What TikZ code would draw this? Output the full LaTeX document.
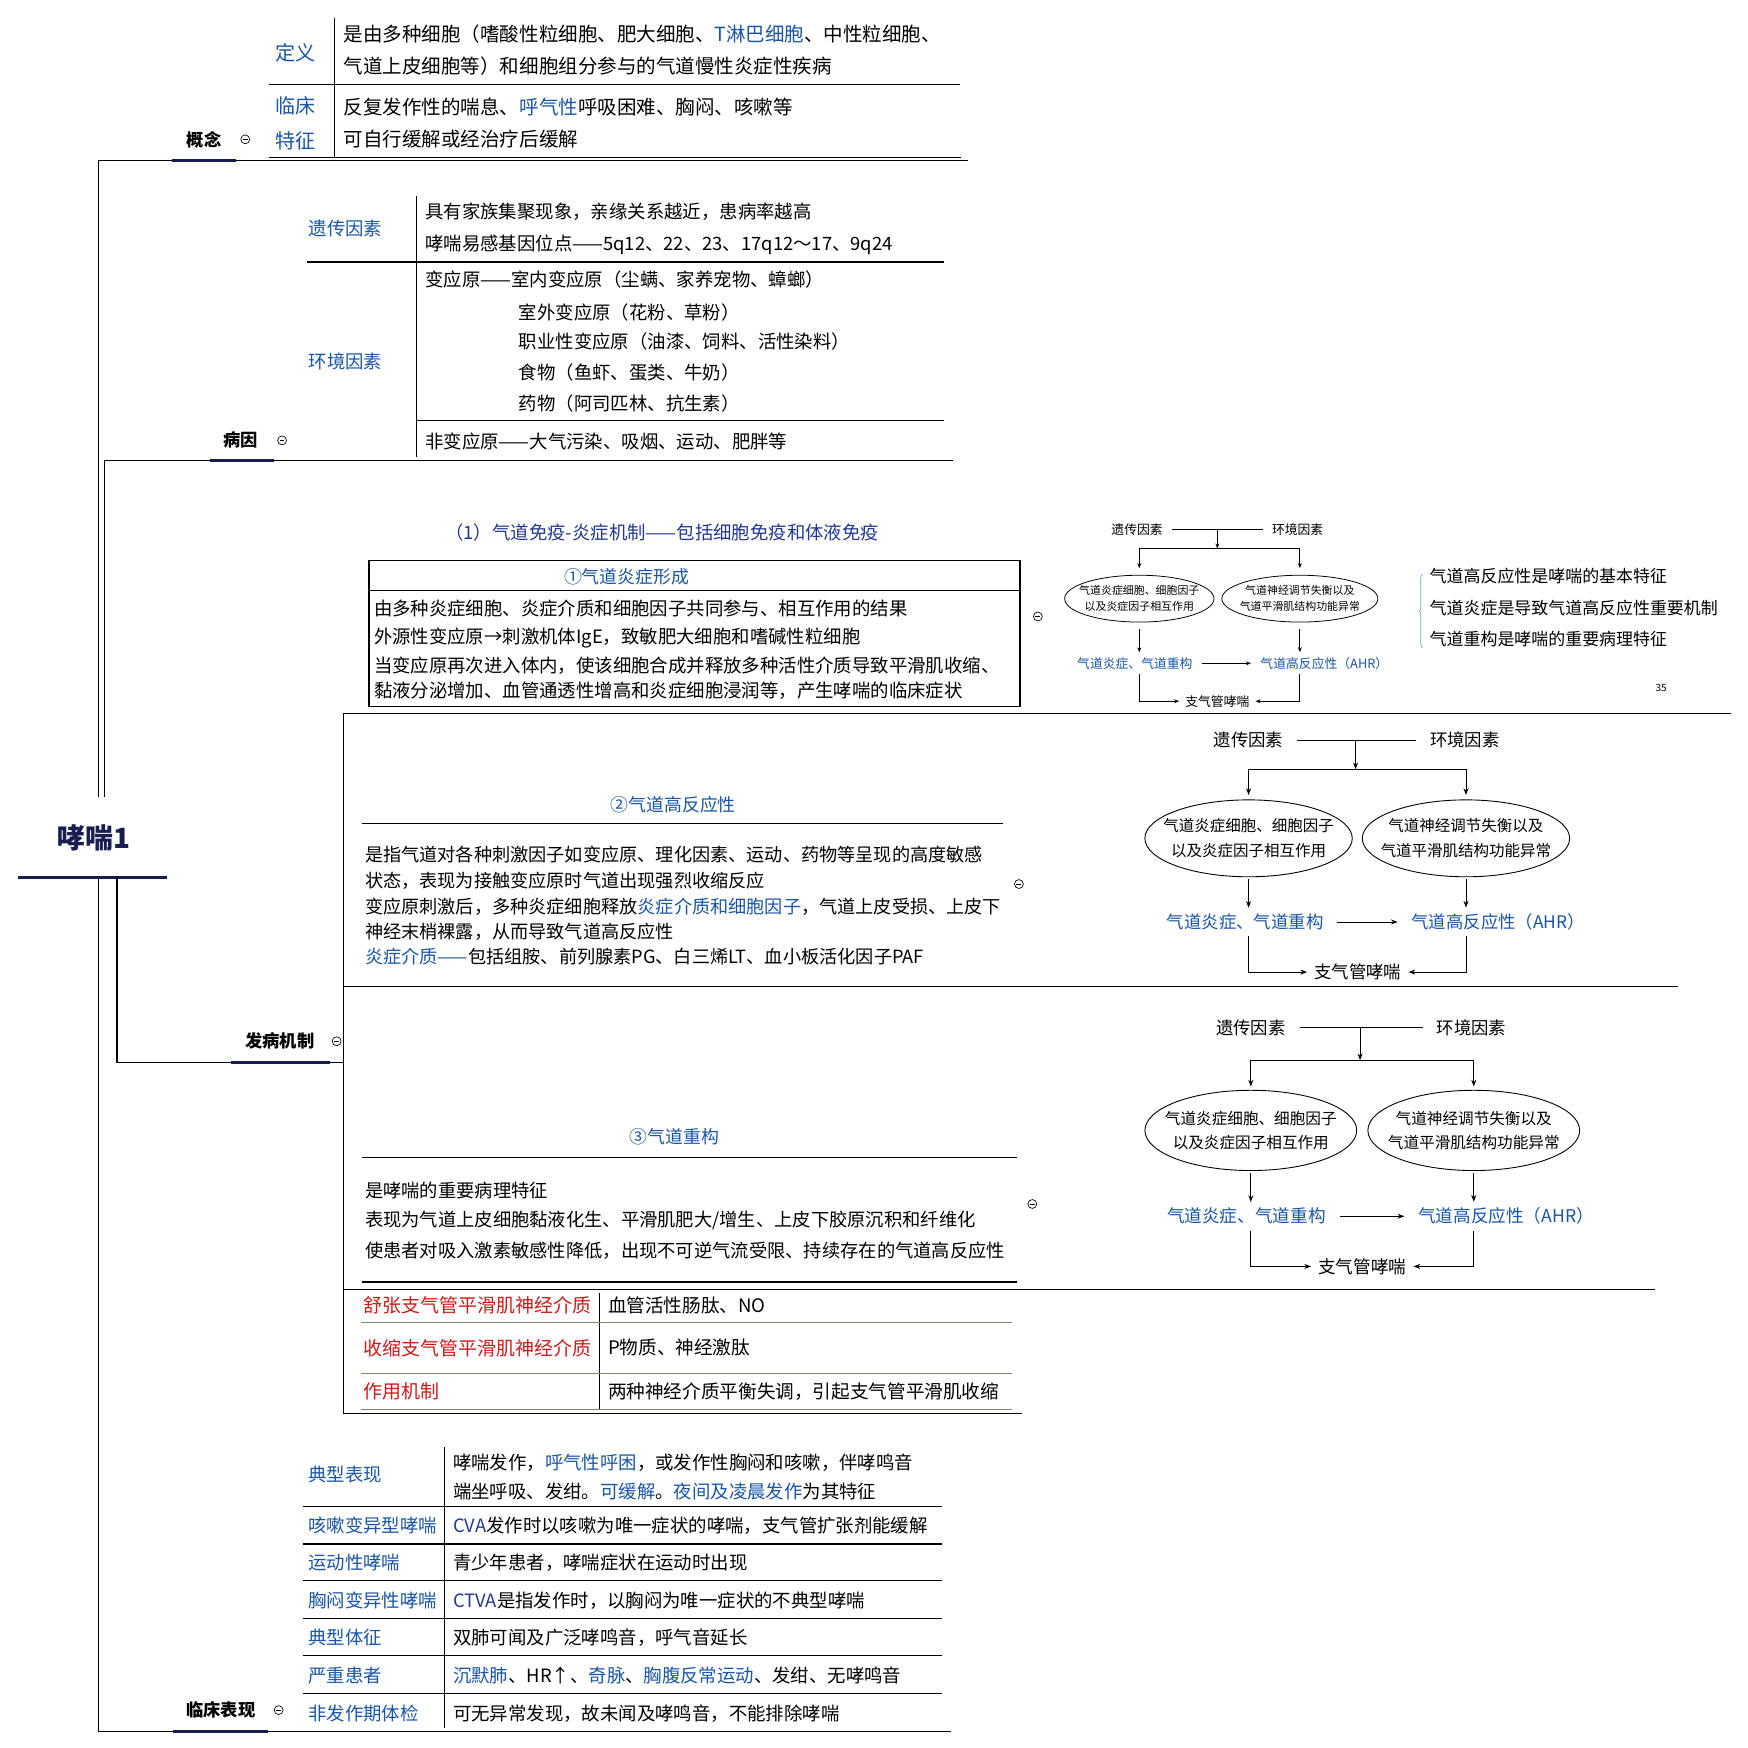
\documentclass[tikz,border=0pt]{standalone}
\usepackage{fontspec}
\setmainfont{Noto Sans CJK SC}
\usetikzlibrary{shapes.geometric,arrows.meta,decorations.pathreplacing}
\definecolor{lblue}{RGB}{25,85,165}
\definecolor{tblue}{RGB}{35,55,145}
\definecolor{lred}{RGB}{205,25,25}
\definecolor{navy}{RGB}{25,30,80}
\definecolor{rowgray}{RGB}{130,135,110}
\newcommand\blu[1]{\textcolor{lblue}{#1}}
\newcommand\fsz[2][1.2]{\fontsize{#2}{#1\dimexpr#2pt\relax}\selectfont}
\tikzset{
  txt/.style={anchor=west, inner sep=0pt, font=\fsz{16.5}},
  lab/.style={txt, text=lblue},
  redlab/.style={txt, text=lred},
  headline/.style={inner sep=0pt, font=\fsz{16}, text=lblue},
  branch/.style={inner sep=0pt, font=\bfseries\fsz{15.5}},
  uline/.style={line width=2.8pt, draw=navy},
  fold/.style={circle, draw, line width=0.6pt, minimum size=8pt, inner sep=0pt,
    path picture={\draw[line width=0.6pt] ([xshift=1.8pt]path picture bounding box.west)
      -- ([xshift=-1.8pt]path picture bounding box.east);}},
  fcbig/.style={inner xsep=12pt, inner ysep=5pt, font=\fsz{15.6}},
  fcblue/.style={fcbig, text=lblue},
  fcend/.style={fcbig, inner xsep=6pt},
  ovbig/.style={ellipse, draw, line width=0.8pt, inner xsep=-11pt, inner ysep=0pt, align=center,
    minimum width=186pt, minimum height=69pt, font=\fontsize{13.9}{22}\selectfont},
  fcsmall/.style={inner xsep=8pt, inner ysep=4pt, font=\fsz{11.5}},
  fcsblue/.style={fcsmall, text=lblue},
  fcsend/.style={fcsmall, inner xsep=5pt},
  ovsmall/.style={ellipse, draw, line width=0.7pt, inner xsep=-10pt, inner ysep=0pt, align=center,
    minimum width=134pt, minimum height=42pt, font=\fontsize{9.8}{14}\selectfont},
  arr/.style={-{Stealth[length=6pt,width=4.5pt]}, line width=0.8pt},
  arrs/.style={-{Stealth[length=4.5pt,width=3.5pt]}, line width=0.7pt},
}
\begin{document}
\begin{tikzpicture}[x=1pt, y=-1pt, line width=1pt]
\useasboundingbox (0,0) rectangle (1568,1568);

% root and branches
\node[inner sep=0pt, font=\bfseries\fsz{25}, text=navy] (root) at (84,752) {哮喘1};
\draw[uline] (16,787) -- (150,787);
\draw (88,715) -- (88,144) -- (868,144);
\draw (94,715) -- (94,413) -- (855,413);
\draw (105,787) -- (105,953) -- (308,953);
\draw (88,787) -- (88,1553) -- (853,1553);
\draw[uline] (154,144) -- (212,144);
\draw[uline] (188,413) -- (246,413);
\draw[uline] (207,953) -- (296,953);
\draw[uline] (155,1553) -- (240,1553);
\node[branch] (bGn) at (183,125) {概念};
\node[fold] (fGn) at (220,125) {};
\node[branch] (bBy) at (216,395) {病因};
\node[fold] (fBy) at (253,395) {};
\node[branch] (bFb) at (251,934) {发病机制};
\node[fold] (fFb) at (302,934) {};
\node[branch] (bLc) at (198,1534) {临床表现};
\node[fold] (fLc) at (250,1534) {};

% 概念
\draw (300,16) -- (300,141);
\draw (241,76) -- (861,76);
\draw (241,141) -- (862,141);
\node[lab, anchor=center, font=\fsz{18}] (lDy) at (265,47) {定义};
\node[lab, anchor=center, font=\fsz{18}] (lLc1) at (265,95) {临床};
\node[lab, anchor=center, font=\fsz{18}] (lLc2) at (265,126) {特征};
\node[txt, font=\fsz{17.5}] (dy1) at (308,31) {是由多种细胞（嗜酸性粒细胞、肥大细胞、\blu{T淋巴细胞}、中性粒细胞、};
\node[txt, font=\fsz{17.5}] (dy2) at (308,59) {气道上皮细胞等）和细胞组分参与的气道慢性炎症性疾病};
\node[txt, font=\fsz{17.5}] (lc1) at (308,96) {反复发作性的喘息、\blu{呼气性}呼吸困难、胸闷、咳嗽等};
\node[txt, font=\fsz{17.5}] (lc2) at (308,125) {可自行缓解或经治疗后缓解};

% 病因
\draw (374,176) -- (374,410);
\draw (275,235) -- (847,235);
\draw (374,377) -- (847,377);
\node[lab, anchor=center] (lYc) at (310,205) {遗传因素};
\node[lab, anchor=center] (lHj) at (310,324) {环境因素};
\node[txt] (yc1) at (381,190) {具有家族集聚现象，亲缘关系越近，患病率越高};
\node[txt] (yc2) at (381,220) {哮喘易感基因位点——5q12、22、23、17q12～17、9q24};
\node[txt] (hj1) at (381,251) {变应原——室内变应原（尘螨、家养宠物、蟑螂）};
\node[txt] (hj2) at (465,280) {室外变应原（花粉、草粉）};
\node[txt] (hj3) at (465,306) {职业性变应原（油漆、饲料、活性染料）};
\node[txt] (hj4) at (465,334) {食物（鱼虾、蛋类、牛奶）};
\node[txt] (hj5) at (465,362) {药物（阿司匹林、抗生素）};
\node[txt] (hj6) at (381,396) {非变应原——大气污染、吸烟、运动、肥胖等};

% 发病机制 frame
\draw (308,640) -- (1553,640);
\draw (308,640) -- (308,1268);
\draw (308,885) -- (1505,885);
\draw (308,1157) -- (1485,1157);
\draw (308,1268) -- (917,1268);

% (1) 气道炎症形成
\node[inner sep=0pt, font=\fsz{16.5}, text=tblue] (tMy) at (594,478) {（1）气道免疫-炎症机制——包括细胞免疫和体液免疫};
\draw (331,503) rectangle (915,634);
\draw (331,530) -- (915,530);
\node[headline] (hYz) at (562,517) {①气道炎症形成};
\node[txt] (yz1) at (335,546) {由多种炎症细胞、炎症介质和细胞因子共同参与、相互作用的结果};
\node[txt] (yz2) at (335,572) {外源性变应原→刺激机体IgE，致敏肥大细胞和嗜碱性粒细胞};
\node[txt] (yz3) at (335,597) {当变应原再次进入体内，使该细胞合成并释放多种活性介质导致平滑肌收缩、};
\node[txt] (yz4) at (335,620) {黏液分泌增加、血管通透性增高和炎症细胞浸润等，产生哮喘的临床症状};
\node[fold] (fYz) at (931,553) {};

\node[fcsmall] (gA) at (1020,475) {遗传因素};
\node[fcsmall] (eA) at (1164,475) {环境因素};
\coordinate (mA) at (1092,475);
\coordinate (sA) at (1092,492);
\draw[line width=0.7pt] (gA) -- (eA);
\draw[arrs] (mA) -- (sA);
\node[ovsmall] (lA) at (1022,537) {气道炎症细胞、细胞因子\\以及炎症因子相互作用};
\node[ovsmall, minimum width=140pt] (rA) at (1166,537) {气道神经调节失衡以及\\气道平滑肌结构功能异常};
\draw[arrs, shorten >=6pt] (sA) -| (lA);
\draw[arrs, shorten >=6pt] (sA) -| (rA);
\node[fcsblue] (iA) at (1018,595) {气道炎症、气道重构};
\node[fcsblue] (hA) at (1188,595) {气道高反应性（AHR）};
\node[fcsend] (zA) at (1092,629) {支气管哮喘};
\draw[arrs, shorten <=6pt] (lA) -- (lA |- iA.north);
\draw[arrs, shorten <=6pt] (rA) -- (rA |- hA.north);
\draw[arrs] (iA) -- (hA);
\draw[arrs] (lA |- iA.south) |- (zA);
\draw[arrs] (rA |- hA.south) |- (zA);

\draw[decorate, decoration={brace, amplitude=3pt}, line width=0.6pt, draw=lblue!60] (1276,581) -- (1276,515);
\node[txt, font=\fsz{15.2}] (ts1) at (1282,517) {气道高反应性是哮喘的基本特征};
\node[txt, font=\fsz{15.2}] (ts2) at (1282,545) {气道炎症是导致气道高反应性重要机制};
\node[txt, font=\fsz{15.2}] (ts3) at (1282,573) {气道重构是哮喘的重要病理特征};
\node[inner sep=0pt, font=\fsz{9}] (pg) at (1490,617) {35};

% ② 气道高反应性
\node[headline] (hGf) at (604,722) {②气道高反应性};
\draw (325,739) -- (900,739);
\node[txt, font=\fsz{16.3}] (gf1) at (327,767) {是指气道对各种刺激因子如变应原、理化因素、运动、药物等呈现的高度敏感};
\node[txt, font=\fsz{16.3}] (gf2) at (327,790) {状态，表现为接触变应原时气道出现强烈收缩反应};
\node[txt, font=\fsz{16.3}] (gf3) at (327,813) {变应原刺激后，多种炎症细胞释放\blu{炎症介质和细胞因子}，气道上皮受损、上皮下};
\node[txt, font=\fsz{16.3}] (gf4) at (327,836) {神经末梢裸露，从而导致气道高反应性};
\node[txt, font=\fsz{16.3}] (gf5) at (327,858) {\blu{炎症介质——}包括组胺、前列腺素PG、白三烯LT、血小板活化因子PAF};
\node[fold] (fGf) at (914,793) {};

\node[fcbig] (gB) at (1120,664) {遗传因素};
\node[fcbig] (eB) at (1314,664) {环境因素};
\coordinate (mB) at (1216,664);
\coordinate (sB) at (1216,690);
\draw (gB) -- (eB);
\draw[arr] (mB) -- (sB);
\node[ovbig] (lB) at (1120,752) {气道炎症细胞、细胞因子\\以及炎症因子相互作用};
\node[ovbig] (rB) at (1315,752) {气道神经调节失衡以及\\气道平滑肌结构功能异常};
\draw[arr, shorten >=4pt] (sB) -| (lB);
\draw[arr, shorten >=4pt] (sB) -| (rB);
\node[fcblue] (iB) at (1117,827) {气道炎症、气道重构};
\node[fcblue] (hB) at (1344,827) {气道高反应性（AHR）};
\node[fcend] (zB) at (1218,872) {支气管哮喘};
\draw[arr, shorten <=2pt] (lB) -- (lB |- iB.north);
\draw[arr, shorten <=2pt] (rB) -- (rB |- hB.north);
\draw[arr] (iB) -- (hB);
\draw[arr] (lB |- iB.south) |- (zB);
\draw[arr] (rB |- hB.south) |- (zB);

% ③ 气道重构
\node[headline] (hCg) at (605,1020) {③气道重构};
\draw (325,1038) -- (912,1038);
\node[txt, font=\fsz{16.4}] (cg1) at (327,1068) {是哮喘的重要病理特征};
\node[txt, font=\fsz{16.4}] (cg2) at (327,1095) {表现为气道上皮细胞黏液化生、平滑肌肥大/增生、上皮下胶原沉积和纤维化};
\node[txt, font=\fsz{16.4}] (cg3) at (327,1122) {使患者对吸入激素敏感性降低，出现不可逆气流受限、持续存在的气道高反应性};
\draw (325,1150) -- (912,1150);
\node[fold] (fCg) at (926,1080) {};

\node[fcbig] (gC) at (1122,922) {遗传因素};
\node[fcbig] (eC) at (1320,922) {环境因素};
\coordinate (mC) at (1220,922);
\coordinate (sC) at (1220,951);
\draw (gC) -- (eC);
\draw[arr] (mC) -- (sC);
\node[ovbig, minimum width=190pt, minimum height=72pt, font=\fontsize{14}{22}\selectfont] (lC) at (1122,1014) {气道炎症细胞、细胞因子\\以及炎症因子相互作用};
\node[ovbig, minimum width=190pt, minimum height=72pt, font=\fontsize{14}{22}\selectfont] (rC) at (1322,1014) {气道神经调节失衡以及\\气道平滑肌结构功能异常};
\draw[arr, shorten >=3pt] (sC) -| (lC);
\draw[arr, shorten >=3pt] (sC) -| (rC);
\node[fcblue, font=\fsz{15.8}] (iC) at (1118,1091) {气道炎症、气道重构};
\node[fcblue, font=\fsz{15.8}] (hC) at (1351,1091) {气道高反应性（AHR）};
\node[fcend, font=\fsz{15.8}] (zC) at (1222,1136) {支气管哮喘};
\draw[arr, shorten <=2pt] (lC) -- (lC |- iC.north);
\draw[arr, shorten <=2pt] (rC) -- (rC |- hC.north);
\draw[arr] (iC) -- (hC);
\draw[arr] (lC |- iC.south) |- (zC);
\draw[arr] (rC |- hC.south) |- (zC);

% 神经介质
\draw (538,1160) -- (538,1264);
\draw[rowgray] (324,1186) -- (908,1186);
\draw[rowgray] (324,1232) -- (908,1232);
\draw[rowgray] (324,1264) -- (908,1264);
\node[redlab, font=\fsz{17}] (sj1) at (326,1171) {舒张支气管平滑肌神经介质};
\node[redlab, font=\fsz{17}] (sj2) at (326,1209) {收缩支气管平滑肌神经介质};
\node[redlab, font=\fsz{17}] (sj3) at (326,1248) {作用机制};
\node[txt, font=\fsz{16.7}] (sv1) at (545,1171) {血管活性肠肽、NO};
\node[txt, font=\fsz{16.7}] (sv2) at (545,1209) {P物质、神经激肽};
\node[txt, font=\fsz{16.7}] (sv3) at (545,1248) {两种神经介质平衡失调，引起支气管平滑肌收缩};

% 临床表现
\draw (399,1298) -- (399,1550);
\foreach \y in {1351,1385,1418,1452,1485,1519}
  \draw (272,\y) -- (845,\y);
\node[lab] (lb1) at (276,1323) {典型表现};
\node[lab] (lb2) at (276,1368) {咳嗽变异型哮喘};
\node[lab] (lb3) at (276,1402) {运动性哮喘};
\node[lab] (lb4) at (276,1436) {胸闷变异性哮喘};
\node[lab] (lb5) at (276,1469) {典型体征};
\node[lab] (lb6) at (276,1503) {严重患者};
\node[lab] (lb7) at (276,1537) {非发作期体检};
\node[txt] (lt1) at (406,1312) {哮喘发作，\blu{呼气性呼困}，或发作性胸闷和咳嗽，伴哮鸣音};
\node[txt] (lt2) at (406,1338) {端坐呼吸、发绀。\blu{可缓解}。\blu{夜间及凌晨发作}为其特征};
\node[txt] (lt3) at (406,1369) {\textcolor{tblue}{CVA}发作时以咳嗽为唯一症状的哮喘，支气管扩张剂能缓解};
\node[txt] (lt4) at (406,1402) {青少年患者，哮喘症状在运动时出现};
\node[txt] (lt5) at (406,1436) {\textcolor{tblue}{CTVA}是指发作时，以胸闷为唯一症状的不典型哮喘};
\node[txt] (lt6) at (406,1469) {双肺可闻及广泛哮鸣音，呼气音延长};
\node[txt] (lt7) at (406,1503) {\blu{沉默肺}、HR↑、\blu{奇脉}、\blu{胸腹反常运动}、发绀、无哮鸣音};
\node[txt] (lt8) at (406,1537) {可无异常发现，故未闻及哮鸣音，不能排除哮喘};
\end{tikzpicture}
\end{document}
